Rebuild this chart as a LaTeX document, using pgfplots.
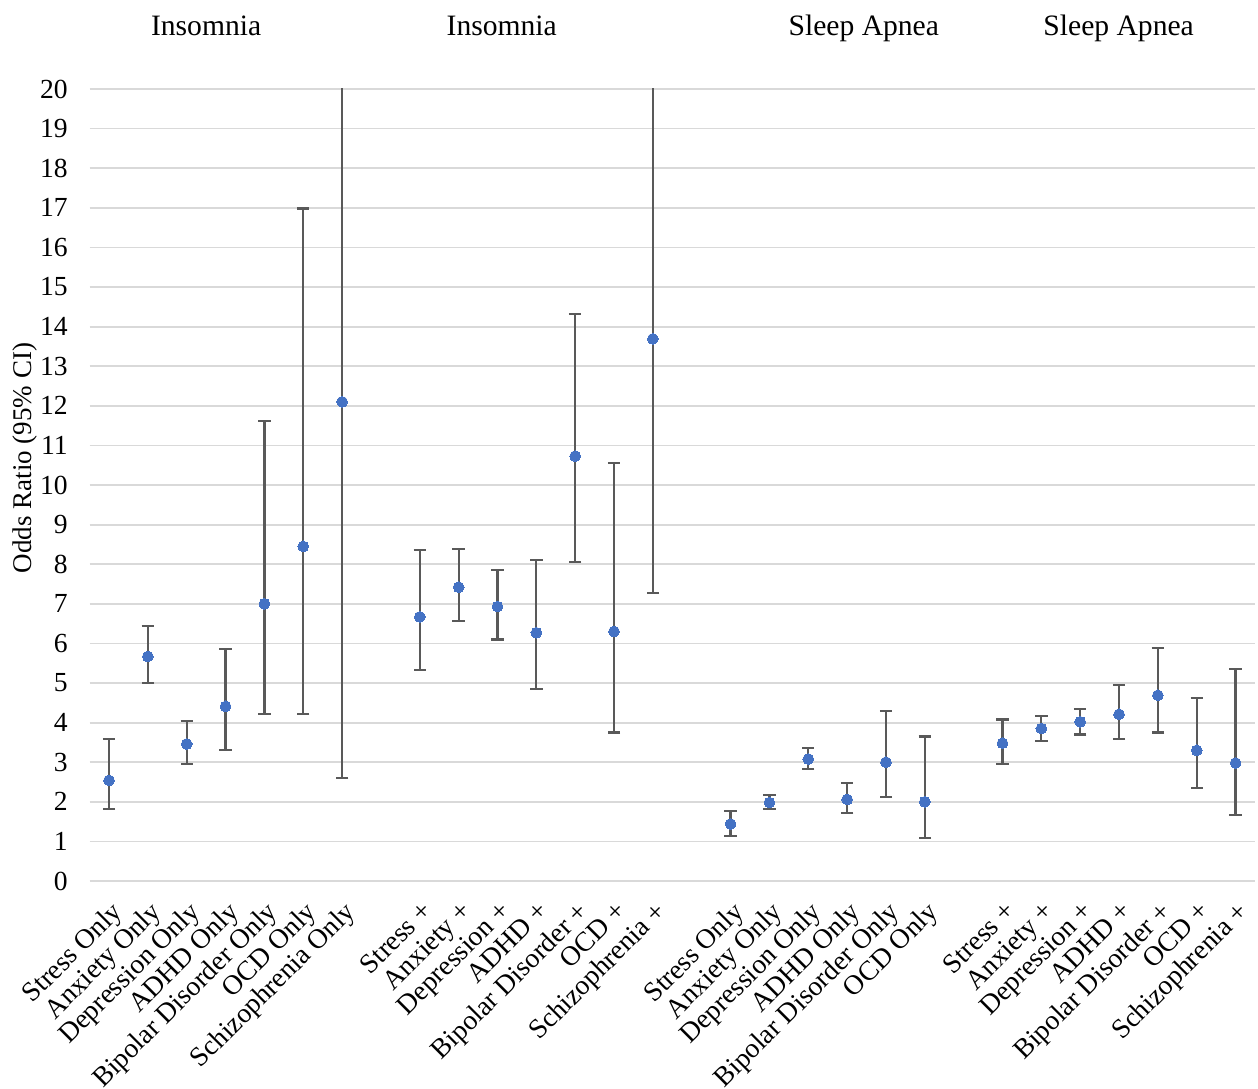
\documentclass[border=0pt]{standalone}
\usepackage{pgfplots}
\pgfplotsset{compat=1.18}
\usepackage{pgfplotstable}
\usepackage{fontspec}
\setmainfont{Liberation Serif}
\definecolor{ptblue}{HTML}{4472C4}
\definecolor{errgray}{HTML}{595959}
\definecolor{gridgray}{HTML}{D9D9D9}

\pgfplotstableread{
x y lo hi
0 2.54 1.81 3.59
1 5.67 5.01 6.44
2 3.46 2.96 4.04
3 4.41 3.31 5.86
4 7.00 4.21 11.62
5 8.45 4.21 16.98
6 12.10 2.60 25
8 6.67 5.32 8.36
9 7.42 6.56 8.39
10 6.93 6.10 7.85
11 6.27 4.85 8.11
12 10.73 8.05 14.31
13 6.30 3.75 10.56
14 13.69 7.28 25
16 1.44 1.14 1.77
17 1.98 1.81 2.17
18 3.08 2.83 3.35
19 2.06 1.71 2.47
20 3.00 2.12 4.29
21 2.00 1.09 3.65
23 3.48 2.96 4.08
24 3.85 3.54 4.17
25 4.02 3.70 4.35
26 4.21 3.59 4.95
27 4.69 3.75 5.88
28 3.30 2.35 4.63
29 2.98 1.66 5.35
}\datatable

\begin{document}
\begin{tikzpicture}
\path[use as bounding box] (-44.8pt,-103.5pt) rectangle (584.2pt,440.5pt);
\begin{axis}[
  at={(0pt,0pt)}, anchor=south west,
  width=582.7pt, height=396pt, scale only axis,
  xmin=-0.5, xmax=29.5, ymin=0, ymax=20,
  ytick={0,...,20},
  xtick={0,1,2,3,4,5,6,8,9,10,11,12,13,14,16,17,18,19,20,21,23,24,25,26,27,28,29},
  xticklabels={Stress Only,Anxiety Only,Depression Only,ADHD Only,Bipolar Disorder Only,OCD Only,Schizophrenia Only,Stress +,Anxiety +,Depression +,ADHD +,Bipolar Disorder +,OCD +,Schizophrenia +,Stress Only,Anxiety Only,Depression Only,ADHD Only,Bipolar Disorder Only,OCD Only,Stress +,Anxiety +,Depression +,ADHD +,Bipolar Disorder +,OCD +,Schizophrenia +},
  ymajorgrids,
  major grid style={gridgray, line width=0.9pt},
  axis line style={draw=none},
  major tick length=0pt,
  tick style={draw=none},
  clip mode=individual,
  /pgf/number format/assume math mode=true,
  tick label style={font=\fontsize{13.8}{16}\selectfont, black},
  yticklabel style={anchor=east, xshift=-7.4pt},
  xticklabel style={xshift=0.35pt, yshift=-4.35pt, rotate=45, anchor=north east},
  ylabel={Odds Ratio (95\% CI)},
  ylabel style={at={(axis description cs:-0.0557,0.534)}, anchor=center, font=\fontsize{13.5}{16}\selectfont},
]
\addplot[only marks, mark=none, forget plot,
  error bars/.cd, y dir=both, y explicit,
  error bar style={draw=errgray, line width=1.1pt},
  error mark options={rotate=90, mark size=3.1pt, draw=errgray, line width=1.1pt}]
  table[x=x, y=y, y error plus expr=\thisrow{hi}-\thisrow{y}, y error minus expr=\thisrow{y}-\thisrow{lo}] {\datatable};
\addplot[only marks, mark=*, mark size=2.7pt,
  mark options={fill=ptblue, draw=ptblue, line width=0pt}]
  table[x=x, y=y] {\datatable};
\node[anchor=base, font=\fontsize{14.8}{17}\selectfont] at (axis cs:2.5,20) [yshift=26.6pt] {Insomnia};
\node[anchor=base, font=\fontsize{14.8}{17}\selectfont] at (axis cs:10.11,20) [yshift=26.6pt] {Insomnia};
\node[anchor=base, font=\fontsize{14.8}{17}\selectfont] at (axis cs:19.43,20) [yshift=26.6pt] {Sleep Apnea};
\node[anchor=base, font=\fontsize{14.8}{17}\selectfont] at (axis cs:25.99,20) [yshift=26.6pt] {Sleep Apnea};
\end{axis}
\end{tikzpicture}
\end{document}
